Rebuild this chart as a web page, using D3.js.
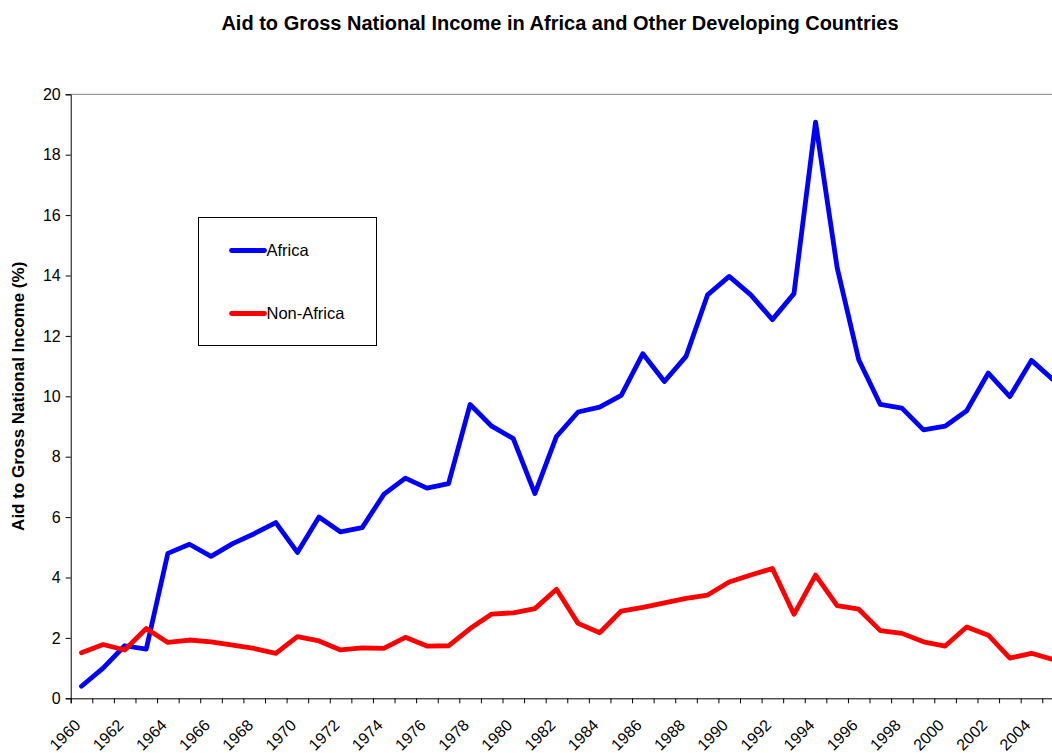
<!DOCTYPE html>
<html>
<head>
<meta charset="utf-8">
<script src="https://cdn.jsdelivr.net/npm/d3@7"></script>
<style>
  body { margin: 0; background: #fff; overflow: hidden; }
  svg { display: block; font-family: "Liberation Sans", Arial, sans-serif; }
</style>
</head>
<body>
<div id="chart"></div>
<script>
// data
var years = d3.range(1960, 2006);
var africa = [0.4, 1.0, 1.74, 1.63, 4.8, 5.1, 4.7, 5.12, 5.45, 5.82,
              4.83, 6.0, 5.51, 5.65, 6.75, 7.29, 6.96, 7.11, 9.73, 9.01,
              8.6, 6.78, 8.67, 9.48, 9.64, 10.03, 11.41, 10.49, 11.32, 13.36,
              13.97, 13.36, 12.54, 13.4, 19.08, 14.26, 11.21, 9.73, 9.61, 8.89,
              9.01, 9.52, 10.77, 9.99, 11.19, 10.55];
var nonAfrica = [1.51, 1.78, 1.6, 2.31, 1.85, 1.93, 1.87, 1.76, 1.65, 1.49,
                 2.04, 1.9, 1.6, 1.67, 1.65, 2.02, 1.73, 1.74, 2.31, 2.79,
                 2.83, 2.97, 3.61, 2.48, 2.17, 2.89, 3.01, 3.16, 3.31, 3.42,
                 3.85, 4.08, 4.3, 2.78, 4.08, 3.07, 2.95, 2.24, 2.15, 1.87,
                 1.73, 2.36, 2.09, 1.33, 1.49, 1.28];
var yTicks = [0, 2, 4, 6, 8, 10, 12, 14, 16, 18, 20];
var seriesNames = ["Africa", "Non-Africa"];
var seriesColors = ["#0000ff", "#ff0000"];

var W = 1052, H = 753;
var plotLeft = 70.7, plotTop = 94.3, plotBottom = 698.3;
var step = 21.59;

var svg = d3.select("#chart").append("svg")
    .attr("width", W)
    .attr("height", H);

var x = d3.scaleLinear()
    .domain([1960, 1960 + years.length])
    .range([plotLeft, plotLeft + years.length * step]);
var y = d3.scaleLinear()
    .domain([0, 20])
    .range([plotBottom, plotTop]);

// title
svg.append("text")
    .attr("x", 560)
    .attr("y", 30)
    .attr("text-anchor", "middle")
    .style("font-size", "20px")
    .style("font-weight", "bold")
    .text("Aid to Gross National Income in Africa and Other Developing Countries");

// plot border (grey)
svg.append("line")
    .attr("x1", plotLeft).attr("x2", x.range()[1])
    .attr("y1", plotTop).attr("y2", plotTop)
    .attr("stroke", "#808080");
svg.append("line")
    .attr("x1", x.range()[1]).attr("x2", x.range()[1])
    .attr("y1", plotTop).attr("y2", plotBottom)
    .attr("stroke", "#808080");

// y axis
var yAxis = svg.append("g")
    .attr("transform", `translate(${plotLeft},0)`)
    .call(d3.axisLeft(y).tickValues(yTicks).tickSize(5).tickPadding(5));
yAxis.select(".domain").attr("stroke", "#000");
yAxis.selectAll("text")
    .style("font-size", "16px")
    .style("font-family", "'Liberation Sans', Arial, sans-serif")
    .attr("fill", "#000");

// x axis: ticks between categories
var xAxis = svg.append("g")
    .attr("transform", `translate(0,${plotBottom})`)
    .call(d3.axisBottom(x).tickValues(d3.range(1960, 1960 + years.length + 1)).tickSize(5).tickFormat(""));
xAxis.select(".domain").attr("stroke", "#000");

svg.append("g").selectAll("text")
    .data(years.filter(function (d) { return d % 2 === 0; }))
    .enter().append("text")
    .attr("transform", function (d) {
        return `translate(${x(d + 0.5) - 4},${plotBottom + 24}) rotate(-45)`;
    })
    .attr("text-anchor", "end")
    .attr("dy", "0.35em")
    .style("font-size", "16px")
    .text(function (d) { return d; });

// y label
svg.append("text")
    .attr("transform", `translate(24,${(plotTop + plotBottom) / 2}) rotate(-90)`)
    .attr("text-anchor", "middle")
    .style("font-size", "17px")
    .style("font-weight", "bold")
    .text("Aid to Gross National Income (%)");

// lines
var line = d3.line()
    .x(function (d, i) { return x(years[i] + 0.5); })
    .y(function (d) { return y(d); });

[africa, nonAfrica].forEach(function (s, k) {
    svg.append("path")
        .datum(s)
        .attr("d", line)
        .attr("fill", "none")
        .attr("stroke", seriesColors[k])
        .attr("stroke-width", 4.8)
        .attr("stroke-linejoin", "round")
        .attr("stroke-linecap", "round");
});

// legend
var lg = svg.append("g").attr("transform", "translate(198.5,217.5)");
lg.append("rect")
    .attr("width", 178)
    .attr("height", 128)
    .attr("fill", "#fff")
    .attr("stroke", "#000");
seriesNames.forEach(function (name, k) {
    var ly = 33 + k * 63;
    lg.append("line")
        .attr("x1", 33).attr("x2", 66)
        .attr("y1", ly).attr("y2", ly)
        .attr("stroke", seriesColors[k])
        .attr("stroke-width", 4.8)
        .attr("stroke-linecap", "round");
    lg.append("text")
        .attr("x", 68)
        .attr("y", ly)
        .attr("dy", "0.35em")
        .style("font-size", "16.5px")
        .text(name);
});
</script>
</body>
</html>
